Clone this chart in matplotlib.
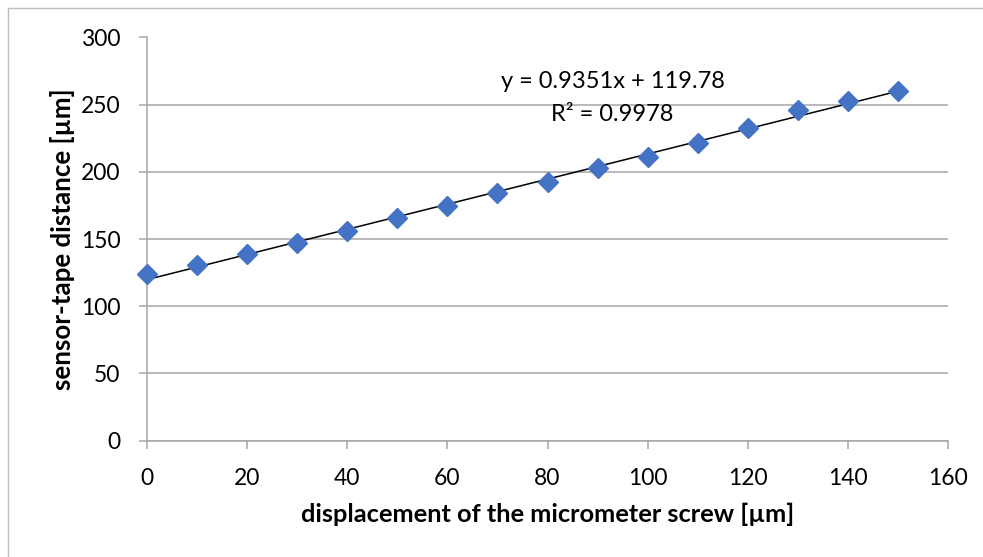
import matplotlib
matplotlib.use('Agg')
import matplotlib.pyplot as plt
import numpy as np
from matplotlib.lines import Line2D

plt.rcParams['font.family'] = ['Lato', 'DejaVu Sans']

# data
displacement = [0, 10, 20, 30, 40, 50, 60, 70, 80, 90, 100, 110, 120, 130, 140, 150]
distance = [123.6, 131.0, 138.5, 147.1, 156.1, 165.8, 174.7, 184.1, 192.8,
            202.5, 211.2, 221.8, 232.8, 246.2, 252.4, 260.3]
slope = 0.9351
intercept = 119.78
r2 = 0.9978

xticks = [0, 20, 40, 60, 80, 100, 120, 140, 160]
yticks = [0, 50, 100, 150, 200, 250, 300]

W, H = 983, 557
fig = plt.figure(figsize=(W / 100, H / 100), dpi=100)
# plot area in pixels: x 147..948, y 37..440
ax = fig.add_axes([147 / W, 1 - 440.5 / H, (948 - 147) / W, (440.5 - 37.5) / H])

grey = '#A6A6A6'
ax.set_xlim(0, 160)
ax.set_ylim(0, 300)
ax.set_xticks(xticks)
ax.set_yticks(yticks)
ax.grid(axis='y', color=grey, lw=1.1)
ax.set_axisbelow(True)
for s in ['top', 'right']:
    ax.spines[s].set_visible(False)
for s in ['left', 'bottom']:
    ax.spines[s].set_color(grey)
    ax.spines[s].set_linewidth(1.1)
ax.tick_params(axis='both', colors=grey, length=6, width=1.1, labelsize=16.5,
               labelcolor='black', direction='out')
ax.tick_params(axis='x', pad=14)
ax.tick_params(axis='y', pad=13)

# trendline
xs = np.array([displacement[0], displacement[-1]])
ax.plot(xs, slope * xs + intercept, color='black', lw=1.1, zorder=3)

ax.plot(displacement, distance, linestyle='none', marker='D', ms=9.8,
        color='#4472C4', zorder=4, clip_on=False)

ax.text(93, 267, f'y = {slope}x + {intercept}', fontsize=17, ha='center', va='center')
ax.text(93, 242.5, f'R² = {r2}', fontsize=17, ha='center', va='center')

ax.set_xlabel('displacement of the micrometer screw [µm]', fontsize=18.3,
              fontweight='bold', labelpad=9.5)
ax.set_ylabel('sensor-tape distance [µm]', fontsize=18.6, fontweight='bold', labelpad=4)

# chart border (left and top edges visible)
fig.add_artist(Line2D([8 / W, 8 / W], [0, 1 - 8 / H], color='#BFBFBF', lw=1.0,
                      transform=fig.transFigure))
fig.add_artist(Line2D([8 / W, 1], [1 - 8 / H, 1 - 8 / H], color='#BFBFBF', lw=1.0,
                      transform=fig.transFigure))

fig.savefig('out.png', dpi=100)
